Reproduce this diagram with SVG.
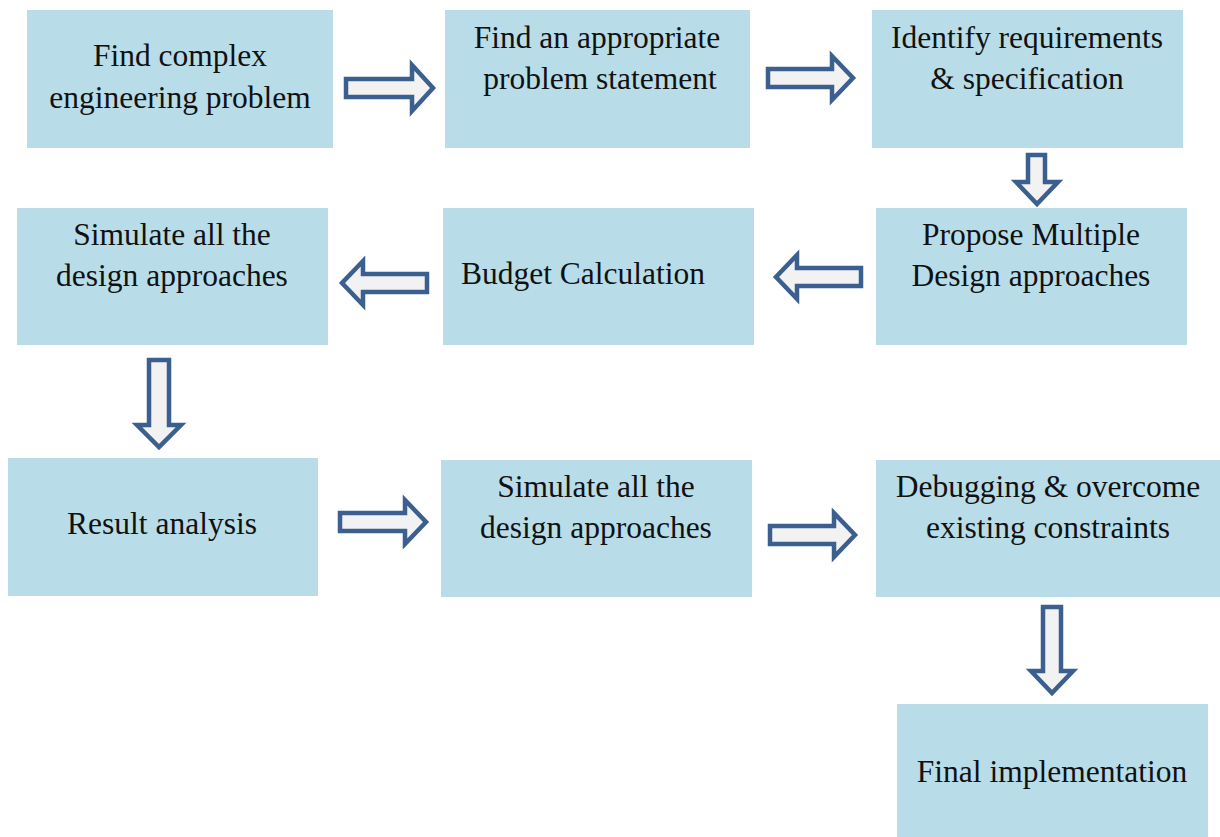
<svg xmlns="http://www.w3.org/2000/svg" width="1220" height="837" viewBox="0 0 1220 837">
<style>
.box{fill:#b8dde8;}
.t{font-family:"Liberation Serif","Times New Roman",serif;font-size:31.5px;fill:#111;text-anchor:middle;}
.arr{fill:#f2f2f2;stroke:#3b5f8e;stroke-width:4.5;stroke-linejoin:miter;}
</style>
<rect width="1220" height="837" fill="#fff"/>
<g id="n1"><rect class="box" x="27" y="10" width="306" height="138"/><text class="t" x="180" y="66">Find complex</text><text class="t" x="180" y="108">engineering problem</text></g>
<g id="n2"><rect class="box" x="445" y="10" width="305" height="138"/><text class="t" x="597" y="48">Find an appropriate</text><text class="t" x="600" y="89">problem statement</text></g>
<g id="n3"><rect class="box" x="872" y="10" width="311" height="138"/><text class="t" x="1027" y="48">Identify requirements</text><text class="t" x="1027" y="89">&amp; specification</text></g>
<g id="n4"><rect class="box" x="876" y="208" width="311" height="137"/><text class="t" x="1031" y="245">Propose Multiple</text><text class="t" x="1031" y="286">Design approaches</text></g>
<g id="n5"><rect class="box" x="443" y="208" width="311" height="137"/><text class="t" x="583" y="284">Budget Calculation</text></g>
<g id="n6"><rect class="box" x="17" y="208" width="311" height="137"/><text class="t" x="172" y="245">Simulate all the</text><text class="t" x="172" y="286">design approaches</text></g>
<g id="n7"><rect class="box" x="8" y="458" width="310" height="138"/><text class="t" x="162" y="534">Result analysis</text></g>
<g id="n8"><rect class="box" x="441" y="460" width="311" height="137"/><text class="t" x="596" y="497">Simulate all the</text><text class="t" x="596" y="538">design approaches</text></g>
<g id="n9"><rect class="box" x="876" y="460" width="344" height="137"/><text class="t" x="1048" y="497">Debugging &amp; overcome</text><text class="t" x="1048" y="538">existing constraints</text></g>
<g id="n10"><rect class="box" x="897" y="704" width="311" height="133"/><text class="t" x="1052" y="782">Final implementation</text></g>
<g id="connectors">
<path class="arr" d="M346,79 H412 V65 L433,88 L412,111 V97 H346 Z"/>
<path class="arr" d="M768,69 H832 V56 L853,78 L832,100 V87 H768 Z"/>
<path class="arr" d="M340,513 H405 V500 L426,522 L405,544 V531 H340 Z"/>
<path class="arr" d="M770,526 H834 V513 L855,535 L834,557 V544 H770 Z"/>
<path class="arr" d="M861,268 H797 V255 L776,277 L797,299 V286 H861 Z"/>
<path class="arr" d="M427,274 H363 V261 L342,283 L363,305 V292 H427 Z"/>
<path class="arr" d="M1028,155 V182 H1016 L1037,204 L1058,182 H1045 V155 Z"/>
<path class="arr" d="M149,360 V425 H137 L159,447 L181,425 H169 V360 Z"/>
<path class="arr" d="M1043,607 V671 H1031 L1052,693 L1073,671 H1061 V607 Z"/>
</g>
</svg>
